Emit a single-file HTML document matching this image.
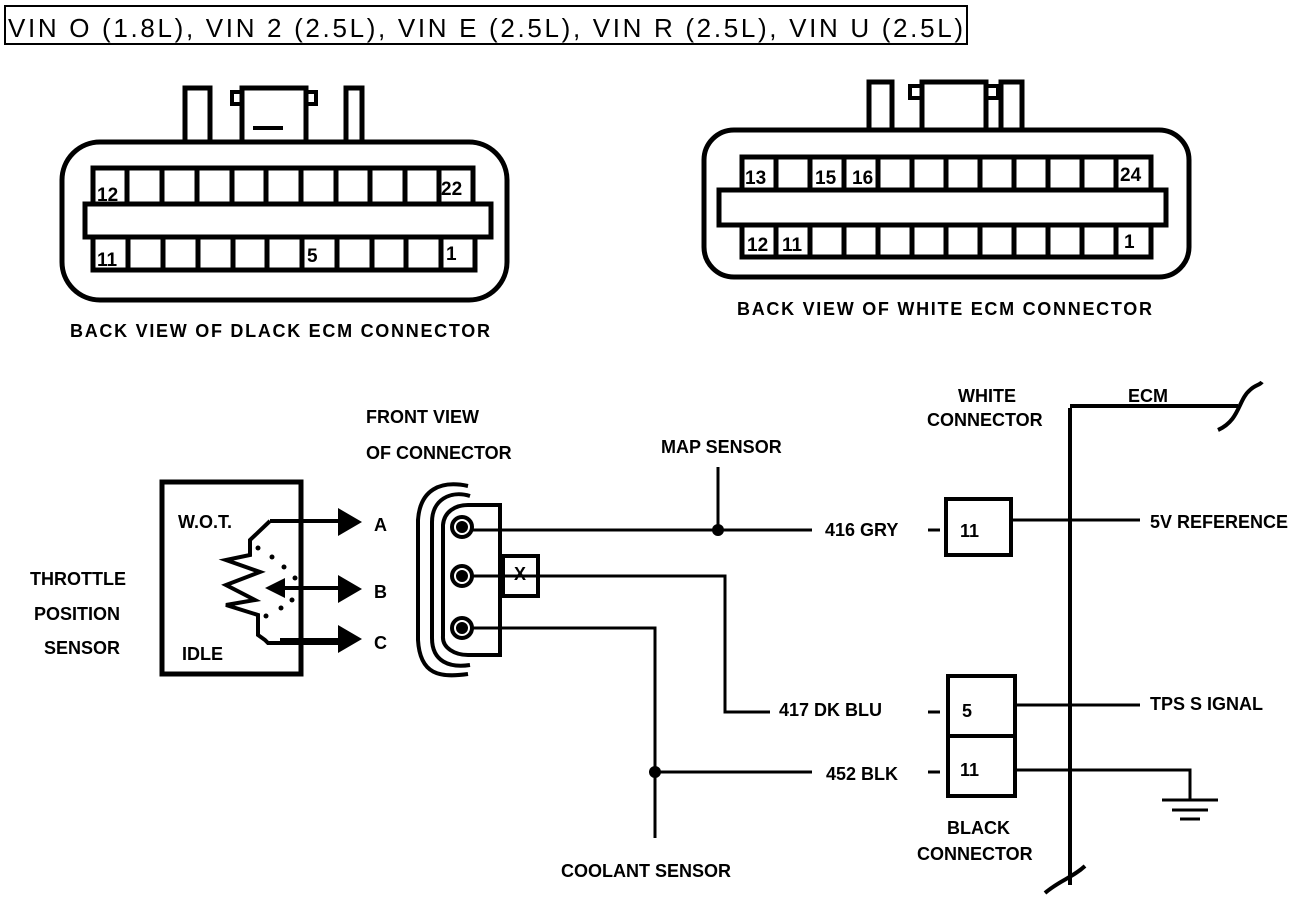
<!DOCTYPE html>
<html><head><meta charset="utf-8"><style>
body{margin:0;background:#fff;width:1312px;height:902px;overflow:hidden}
svg{display:block}
.t{font-family:"Liberation Sans",sans-serif;font-weight:bold;font-size:18px;fill:#000}
.n{font-family:"Liberation Sans",sans-serif;font-weight:bold;font-size:19px;fill:#000}
</style></head><body>
<svg width="1312" height="902" viewBox="0 0 1312 902" xmlns="http://www.w3.org/2000/svg">
<rect x="5" y="6" width="962" height="38" fill="none" stroke="#000" stroke-width="2"/>
<text x="8" y="37" font-family="Liberation Sans, sans-serif" font-size="26" textLength="955">VIN O (1.8L), VIN 2 (2.5L), VIN E (2.5L), VIN R (2.5L), VIN U (2.5L)</text>
<g fill="none" stroke="#000" stroke-width="5">
<rect x="62" y="142" width="445" height="158" rx="38"/>
<path d="M185 140V88H210V140M242 140V88H306V140M346 140V88H362V140"/>
<path d="M232 92H242V104H232ZM306 92H316V104H306Z" stroke-width="4"/>
<rect x="93" y="168" width="380" height="36"/>
<rect x="85" y="204" width="406" height="33"/>
<rect x="93" y="237" width="382" height="33"/>
<rect x="704" y="130" width="485" height="147" rx="30"/>
<path d="M869 128V82H892V128M922 128V82H986V128M1001 128V82H1022V128"/>
<path d="M910 86H922V98H910ZM986 86H998V98H986Z" stroke-width="4"/>
<rect x="742" y="157" width="409" height="33"/>
<rect x="719" y="190" width="447" height="35"/>
<rect x="742" y="225" width="409" height="32"/>
</g>
<g stroke="#000" stroke-width="5">
<path d="M127 168V204M162 168V204M197 168V204M232 168V204M266 168V204M301 168V204M336 168V204M370 168V204M405 168V204M439 168V204"/>
<path d="M128 237V270M163 237V270M198 237V270M233 237V270M267 237V270M302 237V270M337 237V270M372 237V270M406 237V270M441 237V270"/>
<path d="M776 157V190M810 157V190M844 157V190M878 157V190M912 157V190M946 157V190M980 157V190M1014 157V190M1048 157V190M1082 157V190M1116 157V190"/>
<path d="M776 225V257M810 225V257M844 225V257M878 225V257M912 225V257M946 225V257M980 225V257M1014 225V257M1048 225V257M1082 225V257M1116 225V257"/>
<path d="M253 128H283" stroke-width="4"/>
</g>
<g class="n">
<text x="97" y="201">12</text><text x="441" y="195">22</text>
<text x="97" y="266">11</text><text x="307" y="262">5</text><text x="446" y="260">1</text>
<text x="745" y="184">13</text><text x="815" y="184">15</text><text x="852" y="184">16</text><text x="1120" y="181">24</text>
<text x="747" y="251">12</text><text x="782" y="251">11</text><text x="1124" y="248">1</text>
</g>
<text class="t" x="70" y="337" textLength="420">BACK VIEW OF DLACK ECM CONNECTOR</text>
<text class="t" x="737" y="315" textLength="415">BACK VIEW OF WHITE ECM CONNECTOR</text>
<rect x="162" y="482" width="139" height="192" fill="none" stroke="#000" stroke-width="5"/>
<text class="t" x="178" y="528">W.O.T.</text>
<text class="t" x="182" y="660">IDLE</text>
<text class="t" x="30" y="585">THROTTLE</text>
<text class="t" x="34" y="620">POSITION</text>
<text class="t" x="44" y="654">SENSOR</text>
<g fill="none" stroke="#000" stroke-width="4">
<path d="M270 521L250 540V555L226 560L260 572L226 585L255 600L226 605L258 615V635L265 640L268 643H340"/>
<path d="M270 521H340M285 588H340M280 640H340"/>
</g>
<g fill="#000">
<path d="M338 508L362 522L338 536Z M338 575L362 589L338 603Z M338 625L362 639L338 653Z M265 588L285 578V598Z"/>
<circle cx="258" cy="548" r="2.5"/><circle cx="272" cy="557" r="2.5"/><circle cx="284" cy="567" r="2.5"/><circle cx="295" cy="578" r="2.5"/><circle cx="292" cy="600" r="2.5"/><circle cx="281" cy="608" r="2.5"/><circle cx="266" cy="616" r="2.5"/>
</g>
<text class="t" x="374" y="531" font-size="21">A</text>
<text class="t" x="374" y="598" font-size="21">B</text>
<text class="t" x="374" y="649" font-size="21">C</text>
<text class="t" x="366" y="423">FRONT VIEW</text>
<text class="t" x="366" y="459">OF CONNECTOR</text>
<g fill="none" stroke="#000" stroke-width="4">
<path d="M468 486C440 480 420 490 418 520V640C420 675 440 678 468 674"/>
<path d="M470 496C450 490 432 500 432 522V638C432 662 450 668 470 665"/>
<path d="M468 505H500V655H468C455 655 442 648 443 636V525C444 512 455 505 468 505Z"/>
<rect x="503" y="556" width="35" height="40"/>
<circle cx="462" cy="527" r="10"/><circle cx="462" cy="576" r="10"/><circle cx="462" cy="628" r="10"/>
</g>
<g fill="#000"><circle cx="462" cy="527" r="6"/><circle cx="462" cy="576" r="6"/><circle cx="462" cy="628" r="6"/>
<circle cx="718" cy="530" r="6"/><circle cx="655" cy="772" r="6"/></g>
<g fill="none" stroke="#000" stroke-width="3">
<path d="M472 530H812M718 467V530"/>
<path d="M472 576H725V712H770"/>
<path d="M472 628H655V838M655 772H812"/>
<path d="M928 530H940M928 712H940M928 772H940"/>
<path d="M1012 520H1140M1015 705H1140M1015 770H1190V800M1162 800H1218M1172 810H1208M1180 819H1200"/>
<path d="M1070 408V885" stroke-width="4"/>
<path d="M1070 406H1238" stroke-width="4"/>
<path d="M1218 430C1240 420 1238 400 1250 390C1255 385 1260 385 1262 382" stroke-width="4"/>
<path d="M1045 893C1060 880 1072 878 1085 866" stroke-width="4"/>
</g>
<g fill="none" stroke="#000" stroke-width="4">
<rect x="946" y="499" width="65" height="56"/>
<rect x="948" y="676" width="67" height="60"/>
<rect x="948" y="736" width="67" height="60"/>
</g>
<text class="t" x="514" y="580" font-size="16">X</text>
<text class="t" x="661" y="453">MAP SENSOR</text>
<text class="t" x="825" y="536">416 GRY</text>
<text class="t" x="779" y="716">417 DK BLU</text>
<text class="t" x="826" y="780">452 BLK</text>
<text class="t" x="960" y="537">11</text>
<text class="t" x="962" y="717">5</text>
<text class="t" x="960" y="776">11</text>
<text class="t" x="561" y="877">COOLANT SENSOR</text>
<text class="t" x="958" y="402">WHITE</text>
<text class="t" x="927" y="426">CONNECTOR</text>
<text class="t" x="1128" y="402">ECM</text>
<text class="t" x="1150" y="528">5V REFERENCE</text>
<text class="t" x="1150" y="710">TPS S IGNAL</text>
<text class="t" x="947" y="834">BLACK</text>
<text class="t" x="917" y="860">CONNECTOR</text>
</svg>
</body></html>
